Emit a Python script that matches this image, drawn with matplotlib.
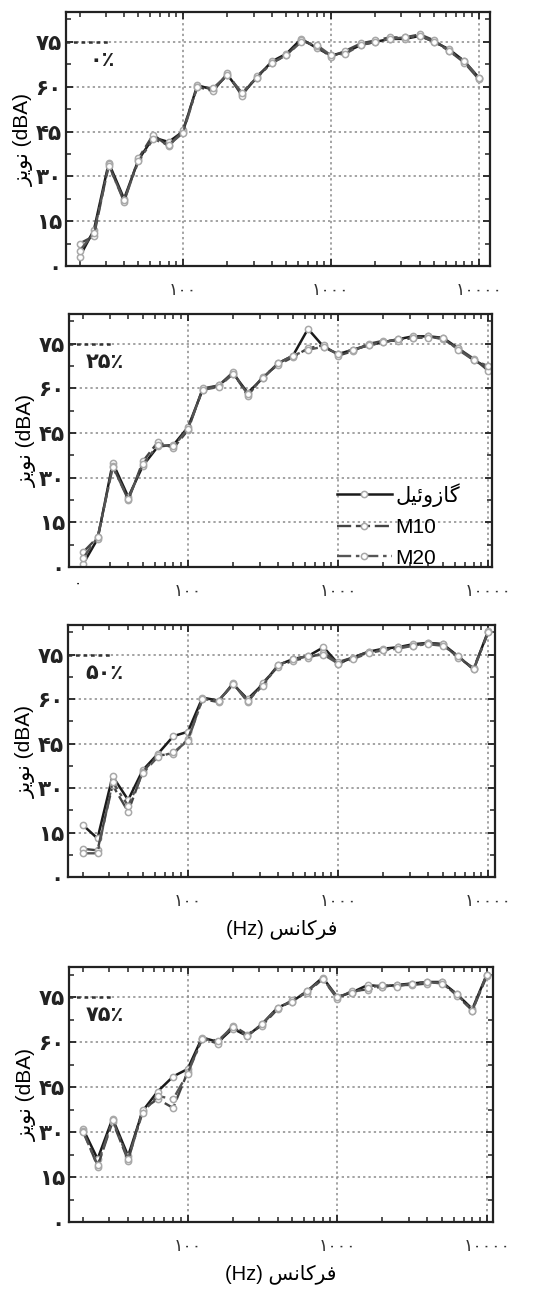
import matplotlib
matplotlib.use("Agg")
import matplotlib.pyplot as plt
from matplotlib.ticker import FixedLocator, NullFormatter, MultipleLocator
import numpy as np

plt.rcParams['font.family'] = ['Liberation Sans', 'DejaVu Sans']

freqs = [20, 25, 31.5, 40, 50, 63, 80, 100, 125, 160, 200, 250, 315, 400, 500,
         630, 800, 1000, 1250, 1600, 2000, 2500, 3150, 4000, 5000, 6300, 8000, 10000]

# panel 1 : 0 %
gaz_0 = [3, 12, 34.5, 22.5, 35.5, 43, 41.5, 45, 60.5, 59, 64, 57.5, 63, 68.5, 71, 76, 73, 70.5, 71.5, 74, 75, 76, 76, 77, 75, 72.5, 68.5, 63]
m10_0 = [7.5, 10, 34, 21.5, 36, 44, 40, 45.5, 60, 58.5, 64.5, 57, 63.5, 68, 70.5, 75.5, 73.5, 70, 72, 74.5, 75.5, 76.5, 76.5, 77.5, 75.5, 72, 68, 62.5]
m20_0 = [5, 11, 33.5, 22, 35, 42.5, 40.5, 44.5, 60, 59.5, 64, 58, 63, 68, 70.5, 75, 74, 70.5, 71, 74, 75, 76, 76.5, 77, 75, 72, 68.5, 63]
# panel 2 : 25 %
gaz_25 = [1, 9.5, 35, 23.5, 34, 40.5, 41, 47, 59.5, 61, 65, 58.5, 63.5, 68.5, 71, 80, 74, 71.5, 73, 74.5, 75.5, 76.5, 77.5, 77.5, 77, 73.5, 69.5, 67]
m10_25 = [5, 10, 34, 22.5, 35.5, 42, 40, 46, 60, 61, 65.5, 57.5, 64, 68, 70.5, 73.5, 74.5, 71, 72.5, 75, 76, 76, 77, 77.5, 76.5, 73.5, 70, 66]
m20_25 = [3, 10, 33.5, 23, 34.5, 41, 40.5, 46.5, 59.5, 60.5, 65, 58, 63.5, 68.5, 71, 73, 74, 71.5, 73, 74.5, 75.5, 76.5, 77, 77, 77, 73, 69.5, 67.5]
# panel 3 : 50 %
gaz_50 = [17.5, 13, 34, 26, 36, 41.5, 47.5, 49, 60.5, 59.5, 65, 60, 65, 71.5, 73.5, 74.5, 77.5, 72, 74, 76, 77, 77.5, 78.5, 79, 78.5, 74.5, 70, 83]
m10_50 = [9.5, 9, 31, 22, 35.5, 41, 41.5, 46.5, 60, 59, 65.5, 59, 65.5, 71, 73, 74, 75.5, 72.5, 74, 76, 76.5, 77.5, 78, 79, 78.5, 74, 70.5, 82.5]
m20_50 = [8, 8, 32, 24, 35, 40.5, 42, 46, 60, 59.5, 65, 59.5, 64.5, 71.5, 73.5, 74.5, 75, 72, 73.5, 75.5, 76.5, 77, 78, 78.5, 78, 74.5, 70, 82.5]
# panel 4 : 75 %
gaz_75 = [31, 21, 34.5, 22, 37, 43.5, 48.5, 51, 61.5, 60, 64.5, 62, 66, 71.5, 73.5, 77, 81.5, 75, 76.5, 79, 78.5, 79, 79.5, 80, 80, 76, 71, 82.5]
m10_75 = [30.5, 18.5, 33.5, 20.5, 37.5, 41, 38, 50, 61, 59.5, 65.5, 62.5, 65.5, 71, 74, 76.5, 81, 74.5, 77, 77.5, 78.5, 79, 79, 79.5, 80, 75.5, 70.5, 82]
m20_75 = [30, 19, 34, 21, 36.5, 42, 41, 49.5, 61, 60.5, 65, 62, 66, 71.5, 73.5, 77, 81, 75, 76.5, 78, 79, 78.5, 79.5, 80, 79.5, 76, 70.5, 82.5]

panel_labels = ["۰٪", "۲۵٪", "۵۰٪", "۷۵٪"]
series_names = ["ﻞﻴﺋﻭﺯﺎﮔ", "M10", "M20"]   # گازوئیل (pre-shaped, visual order)
ytick_vals = [0, 15, 30, 45, 60, 75]
ytick_labels = ["۰", "۱۵", "۳۰", "۴۵", "۶۰", "۷۵"]
xtick_vals = [100, 1000, 10000]
xtick_labels = ["۱۰۰", "۱۰۰۰", "۱۰۰۰۰"]
ylabel = "ﺰﻳﻮﻧ (dBA)"          # نویز (dBA)
xlabel = "(Hz) ﺲﻧﺎﻛﺮﻓ"          # فرکانس (Hz)

data = [(gaz_0, m10_0, m20_0), (gaz_25, m10_25, m20_25),
        (gaz_50, m10_50, m20_50), (gaz_75, m10_75, m20_75)]

W, H = 555, 1294
fig = plt.figure(figsize=(W / 100, H / 100), dpi=100)

# panel boxes in pixels: left, right, top, bottom
boxes = [(66, 490, 12, 266), (69, 492, 314, 567), (68, 495, 625, 877), (69, 493, 967, 1222)]
xlims = [(16.2, 11900), (16.1, 10600), (15.9, 11100), (16.1, 11000)]

styles = [dict(ls='-', color='#1a1a1a', lw=1.8),
          dict(ls=(0, (6, 2)), color='#444444', lw=1.7),
          dict(ls=(0, (6, 2, 1.5, 2)), color='#555555', lw=1.7)]

minor = [v * 10 ** e for e in range(1, 5) for v in range(2, 10)]

for i, (box, xl, series) in enumerate(zip(boxes, xlims, data)):
    l, r, t, b = box
    ax = fig.add_axes([l / W, 1 - b / H, (r - l) / W, (b - t) / H])
    ax.set_xscale('log')
    ax.set_xlim(*xl)
    ax.set_ylim(0, 85)
    ax.xaxis.set_major_locator(FixedLocator(xtick_vals))
    ax.xaxis.set_minor_locator(FixedLocator(minor))
    ax.xaxis.set_minor_formatter(NullFormatter())
    ax.set_xticklabels(xtick_labels, fontsize=12.5, family=['DejaVu Sans'], color='#333')
    ax.set_yticks(ytick_vals)
    ax.set_yticklabels(ytick_labels, fontsize=15.5, family=['DejaVu Sans'],
                       fontweight='bold', color='#222')
    ax.yaxis.set_minor_locator(MultipleLocator(7.5))
    ax.tick_params(which='both', direction='in', top=True, right=True, color='#222')
    ax.tick_params(which='major', length=5, width=1.3, pad=3)
    ax.tick_params(which='minor', length=3.5, width=1.1)
    ax.tick_params(axis='x', which='major', pad=11)
    for s in ax.spines.values():
        s.set_linewidth(1.6)
        s.set_color('#222')
    ax.grid(True, which='major', ls=(0, (1.5, 2)), color='#8a8a8a', lw=1.1)
    ax.axhline(75, xmin=0, xmax=0.1, ls=(0, (1.5, 1.5)), color='#333', lw=1.8)

    handles = []
    for vals, st, name in zip(series, styles, series_names):
        h, = ax.plot(freqs, vals, marker='o', ms=4.5, mfc='white', mec='#a8a8a8',
                     mew=1.1, label=name, **st)
        handles.append(h)

    ax.text(0.085, 0.81, panel_labels[i], transform=ax.transAxes, fontsize=15,
            ha='center', va='center', color='#222', family=['DejaVu Sans'],
            fontweight='bold')
    ax.set_ylabel(ylabel, fontsize=15, labelpad=1)

    if i == 1:
        ax.legend(handles=handles, loc='lower left', bbox_to_anchor=(0.6, -0.06),
                  frameon=False, fontsize=15, handlelength=2.6, handletextpad=0.2,
                  labelspacing=0.55, borderaxespad=0.3)
        ax.text(0.02, -0.035, "۰", transform=ax.transAxes, fontsize=11,
                ha='center', va='top', family=['DejaVu Sans'])
    if i >= 2:
        ax.set_xlabel(xlabel, fontsize=14.5, labelpad=6)

fig.savefig("out.png", dpi=100)
